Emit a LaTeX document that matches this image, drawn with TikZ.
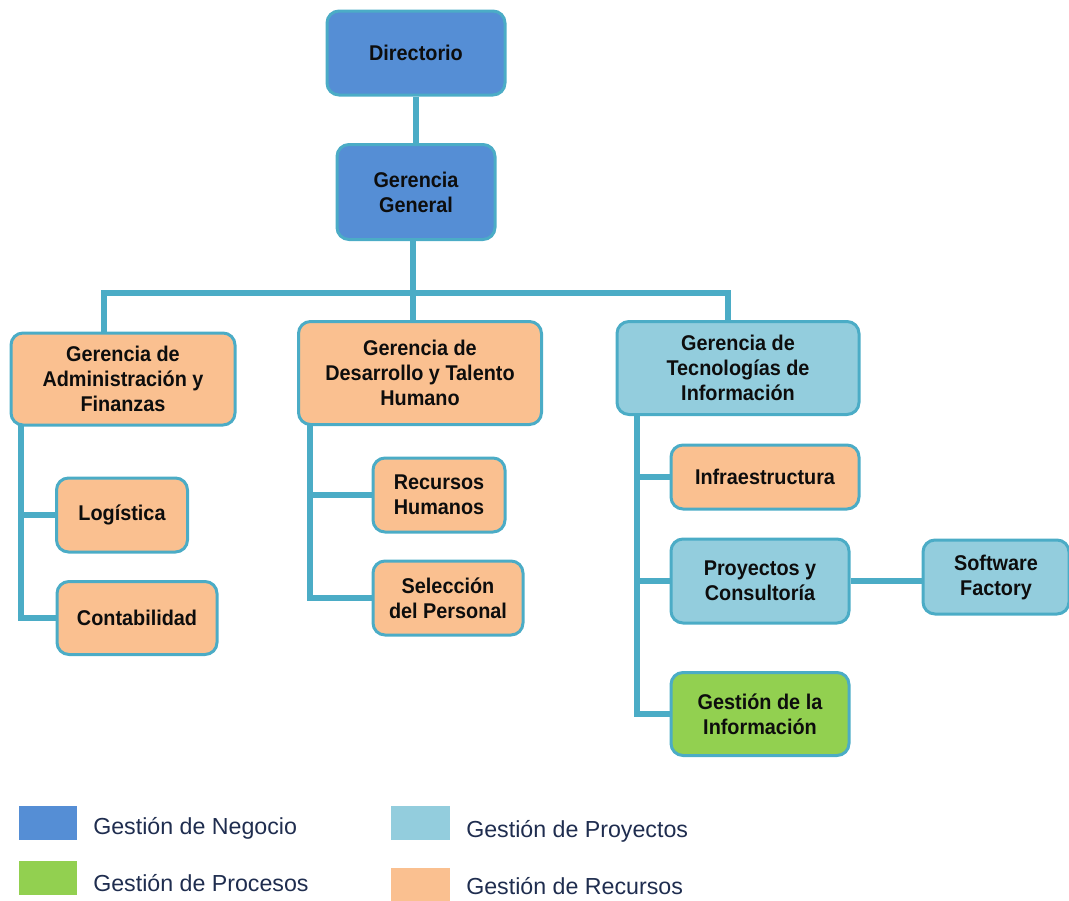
\documentclass[tikz,border=0pt]{standalone}
\usepackage{fontspec}
\setmainfont{Liberation Sans}
\newfontfamily\boxfont[FakeStretch=0.93]{Liberation Sans}
\usetikzlibrary{backgrounds}
\definecolor{edge}{HTML}{4BACC6}
\definecolor{negocio}{HTML}{558ED5}
\definecolor{proyectos}{HTML}{93CDDD}
\definecolor{recursos}{HTML}{FAC090}
\definecolor{procesos}{HTML}{92D050}
\definecolor{txt}{HTML}{0D0D0D}
\definecolor{legtxt}{HTML}{1F2D4F}
\tikzset{
  unitbox/.style 2 args={draw=edge, line width=2.25pt, rounded corners=9pt,
    align=center, inner sep=0pt, text=txt,
    font=\boxfont\bfseries\fontsize{16}{18.75}\selectfont,
    minimum width={#1*0.75pt}, minimum height={#2*0.75pt}},
  conn/.style={draw=edge, line width=3.9pt},
  swatch/.style 2 args={draw=none, inner sep=0pt,
    minimum width={#1*0.75pt}, minimum height={#2*0.75pt}},
  legend/.style={anchor=west, inner sep=0pt, text=legtxt,
    font=\fontsize{17.4}{20}\selectfont}
}
\begin{document}
\begin{tikzpicture}[x=0.75pt, y=-0.75pt]
\useasboundingbox (0,0) rectangle (1069,900);

% top of the hierarchy
\node[unitbox={178}{84}, fill=negocio] (dir) at (416,53) {Directorio};
\node[unitbox={158}{95}, fill=negocio] (gg) at (416,192) {Gerencia\\General};

% second level
\node[unitbox={224}{92}, fill=recursos] (adm) at (123,379) {Gerencia de\\Administración y\\Finanzas};
\node[unitbox={243}{103}, fill=recursos] (des) at (420,373) {Gerencia de\\Desarrollo y Talento\\Humano};
\node[unitbox={242}{93}, fill=proyectos] (ti) at (738,368) {Gerencia de\\Tecnologías de\\Información};

% administration units
\node[unitbox={131}{74}, fill=recursos] (log) at (122,515) {Logística};
\node[unitbox={160}{73}, fill=recursos] (con) at (137,618) {Contabilidad};

% talent units
\node[unitbox={132}{74}, fill=recursos] (rh) at (439,495) {Recursos\\Humanos};
\node[unitbox={150}{74}, fill=recursos] (sel) at (448,598) {Selección\\del Personal};

% technology units
\node[unitbox={188}{64}, fill=recursos] (inf) at (765,477) {Infraestructura};
\node[unitbox={178}{84}, fill=proyectos] (pro) at (760,581) {Proyectos y\\Consultoría};
\node[unitbox={146}{74}, fill=proyectos] (sf) at (996,577) {Software\\Factory};
\node[unitbox={178}{83}, fill=procesos] (gi) at (760,714) {Gestión de la\\Información};

% bus and spine anchors
\coordinate (busL) at (104,293);
\coordinate (busM) at (413,293);
\coordinate (busR) at (728,293);
\coordinate (spA) at (21,425);
\coordinate (spD) at (310,425);
\coordinate (spT) at (637,415);

\begin{scope}[on background layer]
  \draw[conn] (dir) -- (gg);
  \draw[conn] (gg.south -| busM) -- (busM);
  \draw[conn, line cap=rect] (busL) -- (busR);
  \draw[conn] (busL) -- (busL |- adm.north);
  \draw[conn] (busM) -- (busM |- des.north);
  \draw[conn] (busR) -- (busR |- ti.north);
  % administration spine
  \draw[conn, line join=miter] (spA) |- (con.west);
  \draw[conn] (log.west -| spA) -- (log.west);
  % talent spine
  \draw[conn, line join=miter] (spD) |- (sel.west);
  \draw[conn] (rh.west -| spD) -- (rh.west);
  % technology spine
  \draw[conn, line join=miter] (spT) |- (gi.west);
  \draw[conn] (inf.west -| spT) -- (inf.west);
  \draw[conn] (pro.west -| spT) -- (pro.west);
  \draw[conn] (pro.east) -- (pro.east -| sf.west);
\end{scope}

% legend
\node[swatch={58}{34}, fill=negocio] (swN) at (48,823) {};
\node[legend] (lbN) at (93,828) {Gestión de Negocio};
\node[swatch={58}{34}, fill=procesos] (swP) at (48,878) {};
\node[legend] (lbP) at (93,883) {Gestión de Procesos};
\node[swatch={59}{34}, fill=proyectos] (swY) at (420,823) {};
\node[legend] (lbY) at (466,831) {Gestión de Proyectos};
\node[swatch={59}{34}, fill=recursos] (swR) at (420,885) {};
\node[legend] (lbR) at (466,886) {Gestión de Recursos};
\end{tikzpicture}
\end{document}
